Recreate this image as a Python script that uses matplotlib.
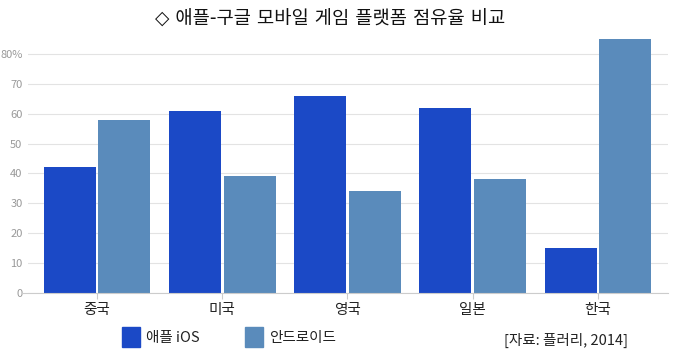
import numpy as np
import matplotlib
matplotlib.use("Agg")
import matplotlib.pyplot as plt
from matplotlib.patches import Rectangle

plt.rcParams['font.family'] = ['Noto Sans CJK KR', 'DejaVu Sans']

countries = ['중국', '미국', '영국', '일본', '한국']
ios = [42, 61, 66, 62, 15]
android = [58, 39, 34, 38, 85]
series_names = ['애플 iOS', '안드로이드']
yticks = [0, 10, 20, 30, 40, 50, 60, 70, 80]
ytick_labels = ['0', '10', '20', '30', '40', '50', '60', '70', '80%']

c_ios = '#1b49c6'
c_and = '#5a8bbb'

fig = plt.figure(figsize=(6.8, 3.53), dpi=100)
ax = fig.add_axes([28/680, 0.17, 640/680, 0.728])

x = np.arange(len(countries))
w = 0.415
ax.bar(x - w/2 - 0.01, ios, w, color=c_ios)
ax.bar(x + w/2 + 0.01, android, w, color=c_and)

ax.set_xlim(-0.552, 4.56)
ax.set_ylim(0, 86)
ax.set_yticks(yticks)
ax.set_yticklabels(ytick_labels, color='#999999', fontsize=8)
ax.set_xticks(x)
ax.set_xticklabels(countries, fontsize=10.5, color='#222222')
ax.tick_params(axis='y', length=0, pad=4)
ax.tick_params(axis='x', length=4, color='#cccccc', pad=3)
ax.grid(axis='y', color='#e3e3e3', linewidth=0.8)
ax.set_axisbelow(True)
for s in ['top', 'right', 'left']:
    ax.spines[s].set_visible(False)
ax.spines['bottom'].set_color('#cccccc')
ax.spines['bottom'].set_bounds(-0.6, 4.56)

fig.text(0.485, 0.945, '◇ 애플-구글 모바일 게임 플랫폼 점유율 비교', ha='center', va='center',
         fontsize=13.5, color='#111111', family=['DejaVu Sans', 'Noto Sans CJK KR'])

# legend
for px, col, name in [(122, c_ios, series_names[0]), (245, c_and, series_names[1])]:
    fig.patches.append(Rectangle((px/680, 1 - 347/353), 18/680, 20/353,
                                 transform=fig.transFigure, color=col))
    fig.text((px + 24)/680, 1 - 338/353, name, fontsize=10.5, va='center', color='#222222')

fig.text(628/680, 1 - 340/353, '[자료: 플러리, 2014]', fontsize=10.5, ha='right',
         va='center', color='#222222')

fig.savefig('out.png', dpi=100)
